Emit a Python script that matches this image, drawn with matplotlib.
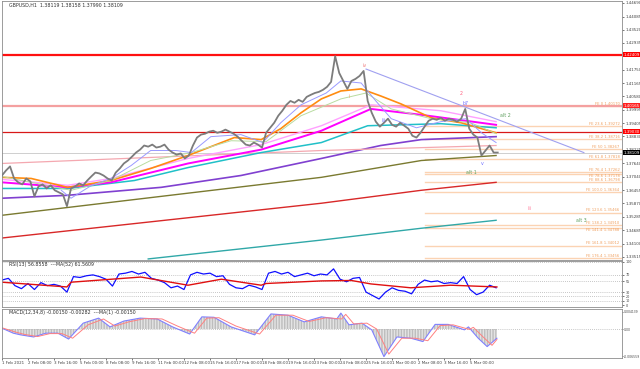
import numpy as np
import matplotlib.pyplot as plt

# GBPUSD H1, x axis = bar number from 1 Feb 2021 00:00
# closes read every 5 bars
closes = [1.3710, 1.3732, 1.3750, 1.3697, 1.3680, 1.3671, 1.3697, 1.3684, 1.3618, 1.3662,
          1.3671, 1.3653, 1.3667, 1.3645, 1.3636, 1.3627, 1.3575, 1.3653, 1.3662, 1.3675,
          1.3667, 1.3688, 1.3706, 1.3723, 1.3719, 1.3710, 1.3697, 1.3688, 1.3723, 1.3741,
          1.3763, 1.3776, 1.3793, 1.3811, 1.3824, 1.3842, 1.3837, 1.3846, 1.3833, 1.3837,
          1.3846, 1.3824, 1.3811, 1.3802, 1.3807, 1.3785, 1.3798, 1.3842, 1.3877, 1.3890,
          1.3894, 1.3903, 1.3907, 1.3898, 1.3903, 1.3912, 1.3903, 1.3894, 1.3881, 1.3863,
          1.3846, 1.3842, 1.3855, 1.3846, 1.3833, 1.3898, 1.3920, 1.3942, 1.3973, 1.3995,
          1.4021, 1.4038, 1.4030, 1.4043, 1.4034, 1.4056, 1.4065, 1.4073, 1.4078, 1.4087,
          1.4100, 1.4122, 1.4235, 1.4161, 1.4126, 1.4091, 1.4126, 1.4135, 1.4148, 1.4170,
          1.4038, 1.3986, 1.3947, 1.3925, 1.3942, 1.3960, 1.3933, 1.3925, 1.3942, 1.3929,
          1.3916, 1.3885, 1.3877, 1.3898, 1.3925, 1.3951, 1.3960, 1.3955, 1.3964, 1.3951,
          1.3960, 1.3955, 1.3947, 1.3960, 1.4003, 1.3916, 1.3890, 1.3877, 1.3798, 1.3820,
          1.3842, 1.3811, 1.3811]
close_step = 5

# moving averages: (bar, price) knots
ma_orange_bars = [0, 36, 81, 134, 183, 229, 286, 319, 343, 368, 393, 417, 442, 466, 491, 528, 565, 608]
ma_orange = [1.3702, 1.3697, 1.3658, 1.3688, 1.3741, 1.3798, 1.3877, 1.3868, 1.3916, 1.3986,
             1.4047, 1.4082, 1.4091, 1.4060, 1.4025, 1.3964, 1.3942, 1.3898]
ma_magenta_bars = [0, 81, 134, 229, 319, 393, 454, 516, 608]
ma_magenta = [1.3680, 1.3658, 1.3680, 1.3763, 1.3824, 1.3907, 1.4003, 1.3977, 1.3933]
ma_pink_bars = [0, 81, 134, 229, 319, 393, 454, 540, 608]
ma_pink = [1.3693, 1.3667, 1.3697, 1.3785, 1.3846, 1.3929, 1.4021, 1.3995, 1.3947]
ma_cyan_bars = [0, 81, 163, 229, 319, 393, 450, 540, 608]
ma_cyan = [1.3653, 1.3653, 1.3688, 1.3745, 1.3811, 1.3855, 1.3929, 1.3938, 1.3920]
ma_purple_bars = [0, 81, 196, 294, 393, 466, 516, 608]
ma_purple = [1.3610, 1.3623, 1.3658, 1.3710, 1.3785, 1.3842, 1.3868, 1.3881]
ma_olive_bars = [0, 393, 516, 608]
ma_olive = [1.3535, 1.3702, 1.3776, 1.3798]
ma_red_bars = [0, 393, 516, 608]
ma_red = [1.3435, 1.3588, 1.3645, 1.3680]
ma_teal_bars = [180, 393, 516, 608]
ma_teal = [1.3343, 1.3426, 1.3478, 1.3513]
ma_rose_bars = [0, 393, 608]
ma_rose = [1.3763, 1.3820, 1.3842]
ma_lblue_bars = [73, 85, 110, 134, 159, 183, 214, 233, 257, 294, 321, 343, 368, 399, 417, 442,
                 460, 479, 510, 540, 571, 590, 608]
ma_lblue = [1.3645, 1.3610, 1.3666, 1.3697, 1.3754, 1.3820, 1.3820, 1.3811, 1.3881, 1.3890,
            1.3855, 1.3942, 1.4021, 1.4073, 1.4126, 1.4117, 1.4038, 1.3960, 1.3920, 1.3947,
            1.3960, 1.3898, 1.3855]
ma_lgreen_bars = [0, 85, 134, 183, 233, 282, 325, 368, 417, 448, 479, 528, 577, 608]
ma_lgreen = [1.3706, 1.3645, 1.3688, 1.3776, 1.3811, 1.3863, 1.3859, 1.3973, 1.4047, 1.4073,
             1.4003, 1.3960, 1.3942, 1.3894]

trend_bars = [448, 716]
trend_prices = [1.41784, 1.38109]

# horizontal levels
level_red = 1.42409
level_fe0 = 1.40165
level_red2 = 1.39030
last_price = 1.38109

fe_names = ["FE 0", "FE 23.6", "FE 38.2", "FE 50", "FE 61.8", "FE 76.4", "FE 78.6", "FE 88.6",
            "FE 100.0", "FE 123.6", "FE 138.2", "FE 141.4", "FE 161.8", "FE 176.4"]
fe_prices = [1.40170, 1.39272, 1.38716, 1.38267, 1.37818, 1.37262, 1.37178, 1.36798,
             1.36364, 1.35466, 1.34910, 1.34788, 1.34012, 1.33456]
fe_below = ["FE 78.6", "FE 141.4"]   # these two labels sit under their line
fe_start = 520

price_ticks = [1.33515, 1.34100, 1.34685, 1.35285, 1.35870, 1.36455, 1.37040, 1.37640, 1.38225,
               1.38830, 1.39405, 1.39995, 1.40580, 1.41165, 1.41750, 1.42935, 1.43520,
               1.44085, 1.44690]

wave_labels = ["iv", "2", "b7", "alt 2", "alt 1", "alt 3", "iii", "v", "i", "iii"]
wave_bars = [446, 565, 570, 620, 577, 713, 649, 591, 427, 469]
wave_prices = [1.4196, 1.4073, 1.4029, 1.3976, 1.3725, 1.3510, 1.3567, 1.3765, 1.4056, 1.3950]
wave_colors = ["#f08080", "#ff6080", "#7070ff", "#60a060", "#60a060", "#60a060", "#ff80a0",
               "#7070ff", "#f0a060", "#7070ff"]

# RSI(13), every 8 bars
rsi_step = 8
rsi = [58, 62, 45, 38, 50, 36, 52, 45, 48, 44, 30, 66, 64, 68, 70, 66, 60, 44, 72, 74,
       78, 72, 76, 62, 58, 52, 40, 44, 36, 70, 76, 72, 74, 66, 68, 48, 40, 38, 46, 42,
       36, 74, 78, 72, 76, 66, 70, 74, 68, 72, 70, 84, 60, 54, 62, 64, 30, 22, 14, 30,
       40, 34, 32, 26, 48, 58, 54, 56, 50, 52, 50, 66, 36, 24, 30, 46, 40]
rsi_ma_bars = [0, 80, 85, 171, 229, 270, 319, 325, 393, 430, 454, 503, 552, 609]
rsi_ma = [53, 42, 53, 65, 46, 60, 46, 50, 56, 57, 49, 40, 46, 42]
rsi_levels = [100, 70, 55, 30, 20, 10]
rsi_ticks = [100, 70, 55, 30, 20, 10, 0]

# MACD(12,34,8)
macd_bars = [0, 14, 23, 39, 54, 69, 82, 100, 119, 133, 150, 170, 191, 210, 231, 246, 261, 282,
             311, 331, 352, 372, 393, 412, 417, 427, 443, 455, 470, 486, 503, 518, 533, 549,
             569, 574, 586, 597, 609]
macd = [0.0002, -0.0010, -0.0014, -0.0019, -0.0010, -0.0010, -0.0024, 0.0014, 0.0026, 0.0005,
        0.0019, 0.0026, 0.0024, 0.0005, -0.0012, 0.0029, 0.0028, 0.0005, -0.0014, 0.0036,
        0.0033, 0.0017, 0.0029, 0.0024, 0.0038, 0.0010, 0.0014, -0.0002, -0.0066, -0.0019,
        -0.0022, -0.0030, 0.0011, 0.0011, -0.0002, 0.0005, -0.0022, -0.0042, -0.0022]
signal_bars = [0, 18, 28, 44, 59, 74, 87, 106, 125, 139, 156, 176, 197, 216, 237, 252, 267,
               288, 317, 337, 358, 378, 399, 418, 423, 433, 449, 461, 476, 492, 509, 524, 539,
               555, 575, 580, 592, 603, 609]
signal = [0.0003, -0.0008, -0.0013, -0.0018, -0.0011, -0.0011, -0.0022, 0.0010, 0.0024, 0.0007,
          0.0017, 0.0025, 0.0024, 0.0007, -0.0010, 0.0026, 0.0027, 0.0007, -0.0012, 0.0033,
          0.0033, 0.0018, 0.0027, 0.0024, 0.0035, 0.0012, 0.0014, 0.0000, -0.0060, -0.0022,
          -0.0022, -0.0028, 0.0008, 0.0010, -0.0001, 0.0004, -0.0019, -0.0039, -0.0025]

date_labels = ["1 Feb 2021", "2 Feb 08:00", "3 Feb 16:00", "5 Feb 00:00", "8 Feb 08:00",
               "9 Feb 16:00", "11 Feb 00:00", "12 Feb 08:00", "15 Feb 16:00", "17 Feb 00:00",
               "18 Feb 08:00", "19 Feb 16:00", "23 Feb 00:00", "24 Feb 08:00", "25 Feb 16:00",
               "1 Mar 00:00", "2 Mar 08:00", "3 Mar 16:00", "5 Mar 00:00"]
bars_per_label = 32

FS = 3.4      # panel captions, wave labels
TS = 2.9      # axis tick labels
XMAX = 763
frame = "#8c8c8c"

fig = plt.figure(figsize=(6.4, 3.69), dpi=100)
ax = fig.add_axes([0.003, 0.2954, 0.969, 0.7019])
ax_rsi = fig.add_axes([0.003, 0.168, 0.969, 0.1247])
ax_macd = fig.add_axes([0.003, 0.0298, 0.969, 0.1328])

for a in (ax, ax_rsi, ax_macd):
    a.set_xlim(0, XMAX)
    a.yaxis.tick_right()
    a.tick_params(axis="y", labelsize=TS, length=1.5, width=0.5, pad=0.8, colors="#404040")
    a.tick_params(axis="x", length=0)
    a.set_xticks([])
    for s in a.spines.values():
        s.set_color(frame)
        s.set_linewidth(0.6)

# ---- main price panel ----
ax.set_ylim(1.33383, 1.44778)
ax.set_yticks(price_ticks)
ax.set_yticklabels([f"{v:.5f}" for v in price_ticks])

ax.axhline(level_red, color="#ff1010", lw=1.6, zorder=2)
ax.axhline(level_fe0, color="#f4a0a0", lw=1.6, zorder=2)
ax.axhline(level_red2, color="#d81818", lw=0.9, zorder=2)
ax.axhline(last_price, color="#c8c8c8", lw=0.6, zorder=1)

for name, p in zip(fe_names, fe_prices):
    ax.plot([fe_start, XMAX], [p, p], color="#fbd3b3", lw=1.0, zorder=1)
    below = name in fe_below
    ax.text(XMAX - 3, p - 0.0001 if below else p + 0.0001, f"{name} {p:.5f}",
            fontsize=TS - 0.2, color="#f0a060", ha="right",
            va="top" if below else "bottom", zorder=5)

ax.plot(ma_teal_bars, ma_teal, color="#30a8a8", lw=1.0)
ax.plot(ma_red_bars, ma_red, color="#d82828", lw=1.0)
ax.plot(ma_olive_bars, ma_olive, color="#7a7a30", lw=1.0)
ax.plot(ma_purple_bars, ma_purple, color="#8040d0", lw=1.2)
ax.plot(ma_rose_bars, ma_rose, color="#f4a8b0", lw=0.9)
ax.plot(ma_cyan_bars, ma_cyan, color="#20c0c8", lw=1.1)
ax.plot(ma_pink_bars, ma_pink, color="#ffa0ff", lw=1.0)
ax.plot(ma_magenta_bars, ma_magenta, color="#ff00ff", lw=1.4)
ax.plot(ma_orange_bars, ma_orange, color="#ff8c10", lw=1.2)
ax.plot(ma_lgreen_bars, ma_lgreen, color="#b8dca0", lw=0.7)
ax.plot(ma_lblue_bars, ma_lblue, color="#9a9aff", lw=0.7)
ax.plot(trend_bars, trend_prices, color="#a0a0f0", lw=0.8)

price_x = np.arange(len(closes)) * close_step
ax.plot(price_x, closes, color="#7c7c7c", lw=1.3, zorder=4)

for t, b, p, c in zip(wave_labels, wave_bars, wave_prices, wave_colors):
    ax.text(b, p, t, fontsize=FS, color=c, ha="center", va="center", zorder=6)

def price_box(p, fc):
    ax.text(1.003, p, f"{p:.5f}", transform=ax.get_yaxis_transform(), fontsize=TS,
            color="white", ha="left", va="center", zorder=10, clip_on=False,
            bbox=dict(boxstyle="square,pad=0.12", fc=fc, ec="none"))

price_box(level_red, "#ff0000")
price_box(level_fe0, "#ff2020")
price_box(level_red2, "#ff0000")
price_box(last_price, "#000000")

ax.text(0.012, 0.992, "GBPUSD,H1  1.38119 1.38158 1.37990 1.38109", transform=ax.transAxes,
        fontsize=FS, color="#303030", ha="left", va="top")

# ---- RSI panel ----
ax_rsi.set_ylim(-4.65, 102.3)
for lv in rsi_levels:
    ax_rsi.axhline(lv, color="#b4b4b4", lw=0.6, ls=(0, (1, 1.5)))
ax_rsi.set_yticks(rsi_ticks)
ax_rsi.set_yticklabels([str(v) for v in rsi_ticks])
ax_rsi.tick_params(axis="y", labelsize=TS - 0.5)
rsi_x = np.arange(len(rsi)) * rsi_step
ax_rsi.plot(rsi_x, rsi, color="#1010ff", lw=0.9)
ax_rsi.plot(rsi_ma_bars, rsi_ma, color="#e01010", lw=1.0)
ax_rsi.text(0.012, 0.97, "RSI(13) 56.8558  ---MA(52) 61.5609", transform=ax_rsi.transAxes,
            fontsize=FS, color="#303030", ha="left", va="top")

# ---- MACD panel ----
ax_macd.set_ylim(-0.00693, 0.00478)
ax_macd.axhline(0, color="#b4b4b4", lw=0.6, ls=(0, (1, 1.5)))
ax_macd.fill_between(macd_bars, macd, 0, facecolor="#e4e4e4", edgecolor="#bdbdbd",
                     hatch="||||||", lw=0)
ax_macd.plot(macd_bars, macd, color="#8080ff", lw=0.8)
ax_macd.plot(signal_bars, signal, color="#ff8080", lw=0.7)
ax_macd.set_yticks([0.004139, 0.0, -0.006559])
ax_macd.set_yticklabels(["0.004139", "0.00", "-0.006559"])
ax_macd.tick_params(axis="y", labelsize=2.2, pad=0.3, length=1.0)
ax_macd.text(0.012, 0.97, "MACD(12,34,8) -0.00150 -0.00282  ---MA(1) -0.00150",
             transform=ax_macd.transAxes, fontsize=FS, color="#303030", ha="left", va="top")

date_pos = np.arange(len(date_labels)) * bars_per_label
ax_macd.set_xticks(date_pos)
ax_macd.set_xticklabels(date_labels, ha="left")
ax_macd.tick_params(axis="x", labelsize=TS, length=1.5, width=0.5, pad=1, colors="#404040")

fig.savefig("out.png", dpi=100, facecolor="white")
